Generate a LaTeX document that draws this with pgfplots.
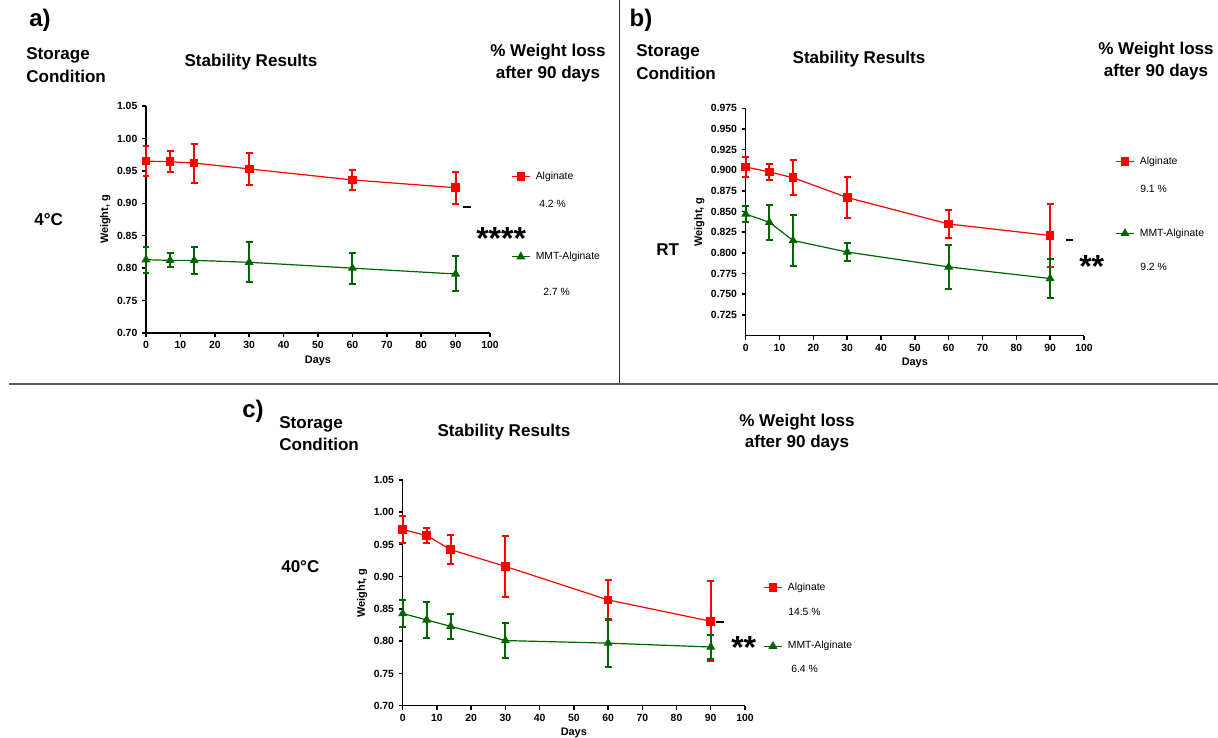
\documentclass[border=0pt]{standalone}
\usepackage{fontspec}
\setmainfont{Liberation Sans}
\usepackage{pgfplots}
\pgfplotsset{compat=1.18}
\definecolor{algred}{RGB}{255,0,0}
\definecolor{mmtgreen}{RGB}{0,100,0}

\pgfplotsset{
  stab/.style={
    scale only axis,
    axis lines*=left,
    axis line style={line width=1.1pt},
    tick style={line width=1.1pt, black},
    major tick length=3pt,
    tick align=outside,
    xmin=0, xmax=100, xtick={0,10,...,100},
    ticklabel style={font=\bfseries\fontsize{7.8}{9}\selectfont},
    /pgf/number format/assume math mode=true,
    xlabel={Days}, ylabel={Weight, g},
    label style={font=\bfseries\fontsize{8.2}{9}\selectfont},
    xlabel style={yshift=2pt},
    ylabel style={yshift=-2pt},
    clip=false,
    legend image code/.code={
      \draw[mark repeat=2,mark phase=2] plot coordinates {(0pt,0pt) (6.75pt,0pt) (13.5pt,0pt)};},
    legend style={draw=none, fill=none, inner sep=0pt, anchor=west,
      font=\fontsize{7.8}{9}\selectfont, column sep=3pt,
      nodes={inner sep=1pt, text depth=0.15em}, cells={anchor=west}},
  },
  alg/.style={algred, line width=0.9pt, mark=square*, mark size=2.8pt,
    error bars/.cd, y dir=both, y explicit,
    error bar style={line width=1.5pt},
    error mark options={rotate=90, mark size=2.6pt, line width=1.5pt}},
  mmt/.style={mmtgreen, line width=0.9pt, mark=triangle*, mark size=3pt,
    error bars/.cd, y dir=both, y explicit,
    error bar style={line width=1.5pt},
    error mark options={rotate=90, mark size=2.6pt, line width=1.5pt}},
}

\begin{document}
\begin{tikzpicture}[x=0.75pt,y=-0.75pt,
  hdr/.style={font=\bfseries\fontsize{12.8}{14}\selectfont, inner sep=0pt},
  pnl/.style={font=\bfseries\fontsize{18}{20}\selectfont, inner sep=0pt},
  pct/.style={font=\fontsize{7.8}{9}\selectfont, inner sep=0pt, anchor=west},
  star/.style={font=\bfseries\fontsize{24}{26}\selectfont, inner sep=0pt, anchor=base west}]
\path[use as bounding box] (0,0) rectangle (1218,738);

% frame lines
\draw[line width=1.1pt, black!80] (619.5,0) -- (619.5,384);
\draw[line width=1.5pt, black!65] (9,384) -- (1218,384);

% ---------- a) 4 C ----------
\node[pnl] at (40,20) {a)};
\node[hdr, anchor=west] at (26,55) {Storage};
\node[hdr, anchor=west] at (26,76) {Condition};
\node[hdr] at (251,62) {Stability Results};
\node[hdr] at (548,52) {\% Weight loss};
\node[hdr] at (548,74) {after 90 days};
\node[hdr, anchor=west] at (34,220) {4°C};

\coordinate (oa) at (146,333);
\begin{axis}[stab, at={(oa)}, anchor=south west,
  width=258pt, height=170.25pt,
  ymin=0.70, ymax=1.05,
  ytick={0.70,0.75,0.80,0.85,0.90,0.95,1.00,1.05},
  yticklabel style={/pgf/number format/.cd, fixed, fixed zerofill, precision=2},
  legend style={at={(1.061,0.513)}, row sep=51pt},
]
\addplot[alg] coordinates {
  (0,0.965) +- (0,0.023)
  (7,0.964) +- (0,0.016)
  (14,0.962) +- (0,0.030)
  (30,0.953) +- (0,0.025)
  (60,0.936) +- (0,0.016)
  (90,0.924) +- (0,0.025)
};
\addlegendentry{Alginate}
\addplot[mmt] coordinates {
  (0,0.813) +- (0,0.020)
  (7,0.812) +- (0,0.011)
  (14,0.812) +- (0,0.021)
  (30,0.809) +- (0,0.031)
  (60,0.800) +- (0,0.024)
  (90,0.791) +- (0,0.027)
};
\addlegendentry{MMT-Alginate}
\end{axis}
\node[pct] at (539,204) {4.2 \%};
\node[pct] at (543,292) {2.7 \%};
\node[star] at (476,250) {****};
\draw[line width=1.1pt] (463,207) -- (471,207);

% ---------- b) RT ----------
\node[pnl] at (641,20) {b)};
\node[hdr, anchor=west] at (636,52) {Storage};
\node[hdr, anchor=west] at (636,73) {Condition};
\node[hdr] at (859,59) {Stability Results};
\node[hdr] at (1156,50) {\% Weight loss};
\node[hdr] at (1156,72) {after 90 days};
\node[hdr, anchor=west] at (656,250) {RT};

\coordinate (ob) at (745.7,335.5);
\begin{axis}[stab, at={(ob)}, anchor=south west,
  width=253.7pt, height=170.4pt,
  ymin=0.70, ymax=0.975,
  ytick={0.725,0.750,0.775,0.800,0.825,0.850,0.875,0.900,0.925,0.950,0.975},
  yticklabel style={/pgf/number format/.cd, fixed, fixed zerofill, precision=3},
  legend style={at={(1.092,0.607)}, row sep=44.5pt},
]
\addplot[alg] coordinates {
  (0,0.904) +- (0,0.012)
  (7,0.898) +- (0,0.010)
  (14,0.891) +- (0,0.021)
  (30,0.867) +- (0,0.025)
  (60,0.835) +- (0,0.017)
  (90,0.821) +- (0,0.038)
};
\addlegendentry{Alginate}
\addplot[mmt] coordinates {
  (0,0.847) +- (0,0.010)
  (7,0.837) +- (0,0.021)
  (14,0.815) +- (0,0.031)
  (30,0.801) +- (0,0.011)
  (60,0.783) +- (0,0.027)
  (90,0.769) +- (0,0.024)
};
\addlegendentry{MMT-Alginate}
\end{axis}
\node[pct] at (1140,189) {9.1 \%};
\node[pct] at (1140,267) {9.2 \%};
\node[star] at (1079,277) {**};
\draw[line width=1.1pt] (1066,240) -- (1073,240);

% ---------- c) 40 C ----------
\node[pnl] at (253,411) {c)};
\node[hdr, anchor=west] at (279,424) {Storage};
\node[hdr, anchor=west] at (279,444) {Condition};
\node[hdr] at (504,432) {Stability Results};
\node[hdr] at (797,422) {\% Weight loss};
\node[hdr] at (797,443) {after 90 days};
\node[hdr, anchor=west] at (281,567) {40°C};

\coordinate (oc) at (402.7,705.7);
\begin{axis}[stab, at={(oc)}, anchor=south west,
  width=256.7pt, height=169.3pt,
  ymin=0.70, ymax=1.05,
  ytick={0.70,0.75,0.80,0.85,0.90,0.95,1.00,1.05},
  yticklabel style={/pgf/number format/.cd, fixed, fixed zerofill, precision=2},
  legend style={at={(1.053,0.393)}, row sep=34.7pt},
]
\addplot[alg] coordinates {
  (0,0.973) +- (0,0.021)
  (7,0.964) +- (0,0.012)
  (14,0.942) +- (0,0.023)
  (30,0.916) +- (0,0.047)
  (60,0.864) +- (0,0.031)
  (90,0.831) +- (0,0.062)
};
\addlegendentry{Alginate}
\addplot[mmt] coordinates {
  (0,0.843) +- (0,0.021)
  (7,0.833) +- (0,0.028)
  (14,0.823) +- (0,0.019)
  (30,0.801) +- (0,0.027)
  (60,0.797) +- (0,0.037)
  (90,0.791) +- (0,0.018)
};
\addlegendentry{MMT-Alginate}
\end{axis}
\node[pct] at (788,612) {14.5 \%};
\node[pct] at (791,669) {6.4 \%};
\node[star] at (731,658) {**};
\draw[line width=1.1pt] (716,622) -- (724,622);
\end{tikzpicture}
\end{document}
